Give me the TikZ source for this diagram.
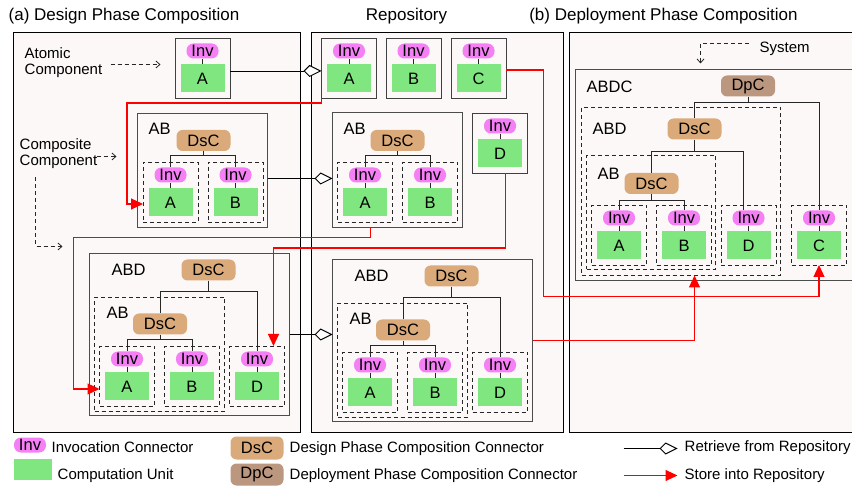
\documentclass[tikz,border=0pt]{standalone}
\usepackage{fontspec}
\setmainfont{Liberation Sans}
\usetikzlibrary{arrows.meta,calc}
\definecolor{invc}{RGB}{245,127,245}
\definecolor{cug}{RGB}{128,230,128}
\definecolor{dscc}{RGB}{219,170,122}
\definecolor{dpcc}{RGB}{188,151,128}
\definecolor{panelbg}{RGB}{253,248,248}
\definecolor{storec}{RGB}{255,0,0}
\newcommand\fszA{\fontsize{17}{20}\selectfont}
\newcommand\fszB{\fontsize{16.5}{19}\selectfont}
\newcommand\fszC{\fontsize{15}{16}\selectfont}
\tikzset{
 panel/.style={draw=black, line width=1pt, fill=panelbg},
 invp/.style={fill=invc, rounded corners=7pt, minimum width=32pt, minimum height=15pt, inner sep=0pt, font=\fszB},
 cunit/.style={fill=cug, minimum width=44pt, minimum height=28pt, inner sep=0pt, font=\fszB},
 dsc/.style={fill=dscc, rounded corners=6pt, minimum width=54pt, minimum height=21pt, inner sep=0pt, font=\fszB},
 dpc/.style={dsc, fill=dpcc},
 solidbox/.style={draw=black!75, line width=0.9pt},
 compbox/.style={draw=black!70, line width=1pt},
 dashbox/.style={draw=black!85, line width=0.8pt, dash pattern=on 4pt off 3pt},
 tree/.style={draw=black!85, line width=0.9pt},
 lbl/.style={font=\fszB, inner sep=0pt, anchor=west},
 note/.style={font=\fszC, inner sep=0pt, align=left, anchor=west},
 retr/.style={draw=black, line width=0.9pt, -{Kite[length=18pt,width=12pt,inset=6pt,fill=white]}},
 store/.style={draw=storec, line width=1.1pt, -{Triangle[length=12pt,width=11pt]}},
 hint/.style={draw=black!85, line width=0.8pt, dash pattern=on 4pt off 3pt, -{Straight Barb[length=4pt,width=7pt]}},
}
% box node from corners: name, x1, y1, x2, y2, style
\newcommand\bx[6]{\node[#6, inner sep=0pt, outer sep=0pt, minimum width={(#4)-(#2)}, minimum height={(#5)-(#3)}] (#1) at ({((#2)+(#4))/2},{((#3)+(#5))/2}) {};}
% computation unit with invocation connector: name, cx, top y, letter, box style
\newcommand\cu[5]{%
 \node[invp] (#1-i) at (#2,{#3+7.5}) {Inv};
 \node[cunit] (#1-g) at (#2,{#3+35}) {#4};
 \draw[tree] (#1-i.south) -- (#1-g.north);
 \bx{#1}{#2-27.5}{#3-5.5}{#2+27.5}{#3+54.5}{#5}
}
\begin{document}
\begin{tikzpicture}[x=1pt,y=-1pt]
\useasboundingbox (0,0) rectangle (852,486);
\clip (0,0) rectangle (852,486);
\begin{scope}[shift={(0.5,0.5)}]
% panels
\bx{pa}{13}{32}{300}{432}{panel}
\bx{pr}{311}{32}{563}{432}{panel}
\bx{pb}{569}{32}{880}{432}{panel}
\node[font=\fszA, inner sep=0pt, anchor=west] (ta) at (8,16) {(a) Design Phase Composition};
\node[font=\fszA, inner sep=0pt] (tr) at (406,16) {Repository};
\node[font=\fszA, inner sep=0pt] (tb) at (663,16) {(b) Deployment Phase Composition};

% ---------- (a) design phase ----------
\cu{aA}{202}{43}{A}{solidbox}
\node[note] (atl) at (24,62) {Atomic\\Component};
\coordinate (atS) at (110,64); \coordinate (atE) at (160,64);
\draw[hint] (atS) -- (atE);
\node[note] (cpl) at (19,153) {Composite\\Component};
\coordinate (cpS) at (96,156); \coordinate (cpE) at (116,156);
\draw[hint] (cpS) -- (cpE);
\coordinate (cpS2) at (35,177); \coordinate (cpE2) at (62,246);
\draw[hint] (cpS2) |- (cpE2);

\bx{aAB}{137}{113}{267}{227}{compbox}
\node[lbl] (aABl) at (148,128) {AB};
\node[dsc] (aAB-d) at (203,140) {DsC};
\cu{aABa}{170}{167}{A}{dashbox}
\cu{aABb}{235}{167}{B}{dashbox}
\draw[tree] (aAB-d.south) -- ++(0,4) -| (aABa-i.north);
\draw[tree] (aAB-d.south) ++(0,4) -| (aABb-i.north);

\bx{aABD}{89}{253}{289}{415}{compbox}
\node[lbl] (aABDl) at (111,269) {ABD};
\node[dsc] (aABD-d) at (208,269.5) {DsC};
\bx{aABDab}{94}{297}{224}{411}{dashbox}
\node[lbl] (aABDabl) at (106,312) {AB};
\node[dsc] (aABDab-d) at (159.5,323.5) {DsC};
\cu{aABDa}{126.5}{351}{A}{dashbox}
\cu{aABDb}{191.5}{351}{B}{dashbox}
\cu{aABDd}{256.5}{351}{D}{dashbox}
\draw[tree] (aABD-d.south) -- ++(0,11) -| (aABDab-d.north);
\draw[tree] (aABD-d.south) ++(0,11) -| (aABDd-i.north);
\draw[tree] (aABDab-d.south) -- ++(0,5) -| (aABDa-i.north);
\draw[tree] (aABDab-d.south) ++(0,5) -| (aABDb-i.north);

% ---------- repository ----------
\cu{rA}{348.5}{43}{A}{solidbox}
\cu{rB}{413}{43}{B}{solidbox}
\cu{rC}{478}{43}{C}{solidbox}
\cu{rD}{499.5}{118}{D}{solidbox}

\bx{rAB}{332}{112}{462}{227}{compbox}
\node[lbl] (rABl) at (343,128) {AB};
\node[dsc] (rAB-d) at (397,140) {DsC};
\cu{rABa}{364.5}{167}{A}{dashbox}
\cu{rABb}{429.5}{167}{B}{dashbox}
\draw[tree] (rAB-d.south) -- ++(0,4) -| (rABa-i.north);
\draw[tree] (rAB-d.south) ++(0,4) -| (rABb-i.north);

\bx{rABD}{332}{259}{532}{421}{compbox}
\node[lbl] (rABDl) at (354,275) {ABD};
\node[dsc] (rABD-d) at (451,275.5) {DsC};
\bx{rABDab}{337}{303}{467}{417}{dashbox}
\node[lbl] (rABDabl) at (349,318) {AB};
\node[dsc] (rABDab-d) at (402.5,329.5) {DsC};
\cu{rABDa}{369.5}{357}{A}{dashbox}
\cu{rABDb}{434.5}{357}{B}{dashbox}
\cu{rABDd}{499.5}{357}{D}{dashbox}
\draw[tree] (rABD-d.south) -- ++(0,11) -| (rABDab-d.north);
\draw[tree] (rABD-d.south) ++(0,11) -| (rABDd-i.north);
\draw[tree] (rABDab-d.south) -- ++(0,5) -| (rABDa-i.north);
\draw[tree] (rABDab-d.south) ++(0,5) -| (rABDb-i.north);

% ---------- (b) deployment phase ----------
\node[note] (sysl) at (759,48) {System};
\coordinate (syS) at (748,43); \coordinate (syE) at (700,63);
\draw[hint] (syS) -| (syE);
\bx{dABDC}{575}{69}{880}{280}{compbox}
\node[lbl] (dABDCl) at (586,86) {ABDC};
\node[dpc] (dABDC-d) at (747.5,85.5) {DpC};
\bx{dABD}{581}{107}{780}{275}{dashbox}
\node[lbl] (dABDl) at (592,128) {ABD};
\node[dsc] (dABD-d) at (694,128.5) {DsC};
\bx{dAB}{586}{155}{715}{269}{dashbox}
\node[lbl] (dABl) at (597,173) {AB};
\node[dsc] (dAB-d) at (651,183) {DsC};
\cu{dA}{618.5}{210}{A}{dashbox}
\cu{dB}{683.5}{210}{B}{dashbox}
\cu{dD}{748}{210}{D}{dashbox}
\cu{dC}{818.5}{210}{C}{dashbox}
\draw[tree] (dABDC-d.south) -- ++(0,6) -| (dABD-d.north);
\draw[tree] (dABDC-d.south) ++(0,6) -| (dC-i.north);
\draw[tree] (dABD-d.south) -- ++(0,12) -| (dAB-d.north);
\draw[tree] (dABD-d.south) ++(0,12) -| ([xshift=-5.5pt]dD-i.north);
\draw[tree] (dAB-d.south) -- ++(0,6) -| (dA-i.north);
\draw[tree] (dAB-d.south) ++(0,6) -| (dB-i.north);

% ---------- retrieve connectors ----------
\draw[retr] ([yshift=-3pt]aA.east) -- ([yshift=-3pt]rA.west);
\draw[retr] ([yshift=-8pt]aAB.east) coordinate (q1) -- (q1 -| rAB.west);
\draw[retr] (aABD.east) -- (aABD.east -| rABD.west);

% ---------- store connectors ----------
\draw[store] (rA.south west) -- ++(0,5) -| ($(aABa.west)+(-16,12)$) -- ([yshift=-12pt]aABa.west);
\draw[store] ([xshift=38pt]rAB.south west) -- ++(0,10) -| ($(aABDa.west)+(-26,13)$) -- ([yshift=-13pt]aABDa.west);
\draw[store] ([xshift=5.5pt]rD.south) -- ++(0,75) -| ([xshift=16.5pt]aABDd.north);
\draw[store] ([yshift=-2pt]rC.east) -- ++(37.5,0) -- ++(0,226.5) -| (dC.south);
\draw[store] (rABD.east) -| (dABD-d |- dABD.south);

% ---------- legend ----------
\node[invp] (lgI) at (29.5,444.5) {Inv};
\node[note] (lgIt) at (51,447) {Invocation Connector};
\node[fill=cug, minimum width=38pt, minimum height=21pt, inner sep=0pt] (lgG) at (32,468.5) {};
\node[note] (lgGt) at (57,475) {Computation Unit};
\node[dsc, minimum width=53pt, minimum height=23pt] (lgD) at (256.5,447.5) {DsC};
\node[note] (lgDt) at (289,448) {Design Phase Composition Connector};
\node[dpc, minimum width=53pt, minimum height=22pt] (lgP) at (256.5,474) {DpC};
\node[note] (lgPt) at (289,475) {Deployment Phase Composition Connector};
\coordinate (lr1) at (623,448); \coordinate (lr2) at (677,448);
\draw[retr] (lr1) -- (lr2);
\node[note] (lrt) at (684,447) {Retrieve from Repository};
\coordinate (ls1) at (623,475); \coordinate (ls2) at (677,475);
\draw[store] (ls1) -- (ls2);
\node[note] (lst) at (684,475) {Store into Repository};
\end{scope}
\end{tikzpicture}
\end{document}
